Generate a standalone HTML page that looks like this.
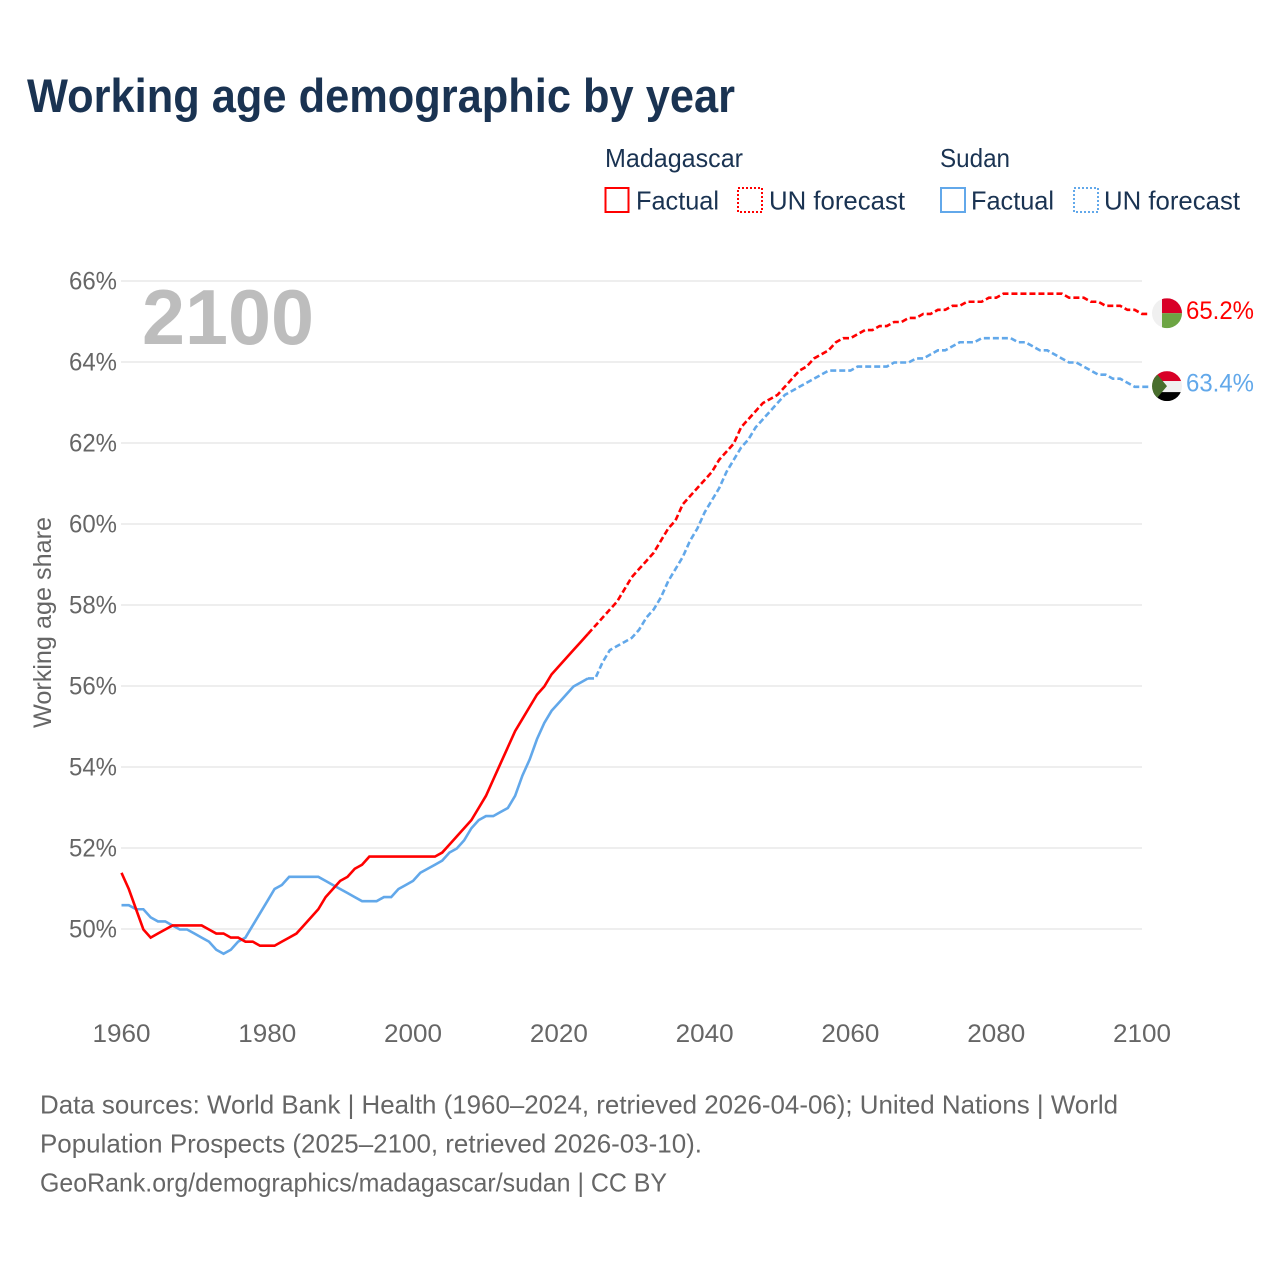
<!DOCTYPE html>
<html lang="en">
<head>
<meta charset="utf-8">
<title>Working age demographic by year</title>
<style>
html,body{margin:0;padding:0;background:#fff;}
svg{display:block;font-family:"Liberation Sans",sans-serif;}
</style>
</head>
<body>
<svg id="chart" xmlns="http://www.w3.org/2000/svg" width="1280" height="1280" viewBox="0 0 1280 1280">
  <rect x="0" y="0" width="1280" height="1280" fill="#ffffff"/>
  <text x="27" y="112" font-size="47" font-weight="700" fill="#1a3352" textLength="708" lengthAdjust="spacingAndGlyphs">Working age demographic by year</text>

  <g font-size="26" fill="#1a3352">
    <text x="605" y="167" textLength="138" lengthAdjust="spacingAndGlyphs">Madagascar</text>
    <text x="940" y="167" textLength="70" lengthAdjust="spacingAndGlyphs">Sudan</text>
    <rect x="605.5" y="188" width="23" height="24" fill="none" stroke="#ff0000" stroke-width="2"/>
    <text x="636" y="209.5" textLength="83" lengthAdjust="spacingAndGlyphs">Factual</text>
    <rect x="738" y="188" width="24" height="24" fill="none" stroke="#ff0000" stroke-width="2" stroke-dasharray="2 2"/>
    <text x="769" y="209.5" textLength="136" lengthAdjust="spacingAndGlyphs">UN forecast</text>
    <rect x="941" y="188" width="24" height="24" fill="none" stroke="#62a8ea" stroke-width="2"/>
    <text x="971" y="209.5" textLength="83" lengthAdjust="spacingAndGlyphs">Factual</text>
    <rect x="1074" y="188" width="24" height="24" fill="none" stroke="#62a8ea" stroke-width="2" stroke-dasharray="2 2"/>
    <text x="1104" y="209.5" textLength="136" lengthAdjust="spacingAndGlyphs">UN forecast</text>
  </g>

  <g id="grid"></g>
  <g id="yticks"></g>
  <g id="xticks"></g>

  <text x="142" y="344" font-size="78" font-weight="700" fill="#bdbdbd" textLength="172" lengthAdjust="spacingAndGlyphs">2100</text>
  <text transform="translate(51 728) rotate(-90)" font-size="25" fill="#666666" textLength="211" lengthAdjust="spacingAndGlyphs">Working age share</text>

  <g id="series"></g>

  <defs>
    <clipPath id="flag-clip"><circle cx="0" cy="0" r="15"/></clipPath>
  </defs>
  <g id="flag-madagascar">
    <g clip-path="url(#flag-clip)">
      <rect x="-15" y="-15" width="30" height="30" fill="#f0f0f0"/>
      <rect x="-5" y="-15" width="20" height="15" fill="#d80027"/>
      <rect x="-5" y="0" width="20" height="15" fill="#6da544"/>
    </g>
  </g>
  <g id="flag-sudan">
    <g clip-path="url(#flag-clip)">
      <rect x="-15" y="-15" width="30" height="10" fill="#d80027"/>
      <rect x="-15" y="-5" width="30" height="11" fill="#f0f0f0"/>
      <rect x="-15" y="6" width="30" height="9" fill="#000000"/>
      <polygon points="-15,-18 0,0 -15,18" fill="#496e2d"/>
    </g>
  </g>
  <text id="label-madagascar" x="1186" y="320" font-size="25" fill="#ff0000" textLength="68" lengthAdjust="spacingAndGlyphs"></text>
  <text id="label-sudan" x="1186" y="392" font-size="25" fill="#62a8ea" textLength="68" lengthAdjust="spacingAndGlyphs"></text>

  <g font-size="26" fill="#666666">
    <text x="40" y="1113.5" textLength="1078" lengthAdjust="spacingAndGlyphs">Data sources: World Bank | Health (1960–2024, retrieved 2026-04-06); United Nations | World</text>
    <text x="40" y="1152.5" textLength="662" lengthAdjust="spacingAndGlyphs">Population Prospects (2025–2100, retrieved 2026-03-10).</text>
    <text x="40" y="1191.5" textLength="627" lengthAdjust="spacingAndGlyphs">GeoRank.org/demographics/madagascar/sudan | CC BY</text>
  </g>
</svg>

<script>
const firstYear = 1960;
const lastFactualYear = 2024;
const yTickValues = [50, 52, 54, 56, 58, 60, 62, 64, 66];
const xTickValues = [1960, 1980, 2000, 2020, 2040, 2060, 2080, 2100];
const madagascarValues = [
  51.4,51.0,50.5,50.0,49.8,49.9,50.0,50.1,50.1,50.1,
  50.1,50.1,50.0,49.9,49.9,49.8,49.8,49.7,49.7,49.6,
  49.6,49.6,49.7,49.8,49.9,50.1,50.3,50.5,50.8,51.0,
  51.2,51.3,51.5,51.6,51.8,51.8,51.8,51.8,51.8,51.8,
  51.8,51.8,51.8,51.8,51.9,52.1,52.3,52.5,52.7,53.0,
  53.3,53.7,54.1,54.5,54.9,55.2,55.5,55.8,56.0,56.3,
  56.5,56.7,56.9,57.1,57.3,57.5,57.7,57.9,58.1,58.4,
  58.7,58.9,59.1,59.3,59.6,59.9,60.1,60.5,60.7,60.9,
  61.1,61.3,61.6,61.8,62.0,62.4,62.6,62.8,63.0,63.1,
  63.2,63.4,63.6,63.8,63.9,64.1,64.2,64.3,64.5,64.6,
  64.6,64.7,64.8,64.8,64.9,64.9,65.0,65.0,65.1,65.1,
  65.2,65.2,65.3,65.3,65.4,65.4,65.5,65.5,65.5,65.6,
  65.6,65.7,65.7,65.7,65.7,65.7,65.7,65.7,65.7,65.7,
  65.6,65.6,65.6,65.5,65.5,65.4,65.4,65.4,65.3,65.3,
  65.2
];
const sudanValues = [
  50.6,50.6,50.5,50.5,50.3,50.2,50.2,50.1,50.0,50.0,
  49.9,49.8,49.7,49.5,49.4,49.5,49.7,49.8,50.1,50.4,
  50.7,51.0,51.1,51.3,51.3,51.3,51.3,51.3,51.2,51.1,
  51.0,50.9,50.8,50.7,50.7,50.7,50.8,50.8,51.0,51.1,
  51.2,51.4,51.5,51.6,51.7,51.9,52.0,52.2,52.5,52.7,
  52.8,52.8,52.9,53.0,53.3,53.8,54.2,54.7,55.1,55.4,
  55.6,55.8,56.0,56.1,56.2,56.2,56.6,56.9,57.0,57.1,
  57.2,57.4,57.7,57.9,58.2,58.6,58.9,59.2,59.6,59.9,
  60.3,60.6,60.9,61.3,61.6,61.9,62.1,62.4,62.6,62.8,
  63.0,63.2,63.3,63.4,63.5,63.6,63.7,63.8,63.8,63.8,
  63.8,63.9,63.9,63.9,63.9,63.9,64.0,64.0,64.0,64.1,
  64.1,64.2,64.3,64.3,64.4,64.5,64.5,64.5,64.6,64.6,
  64.6,64.6,64.6,64.5,64.5,64.4,64.3,64.3,64.2,64.1,
  64.0,64.0,63.9,63.8,63.7,63.7,63.6,63.6,63.5,63.4,
  63.4
];

const SVGNS = 'http://www.w3.org/2000/svg';
const xScale = function (year) { return 121.5 + (year - 1960) * (1020.5 / 140); };
const yScale = function (value) { return 929.5 - (value - 50) * 40.5; };
const pathFor = function (values, fromYear, toYear, tail) {
  const parts = [];
  for (let yr = fromYear; yr <= toYear; yr++) {
    const v = values[yr - firstYear];
    parts.push((parts.length ? 'L' : 'M') + xScale(yr).toFixed(2) + ' ' + yScale(v).toFixed(2));
  }
  if (tail) {
    parts.push('L' + (xScale(toYear) + tail).toFixed(2) + ' ' + yScale(values[toYear - firstYear]).toFixed(2));
  }
  return parts.join(' ');
};

const gridG = document.getElementById('grid');
const yG = document.getElementById('yticks');
yTickValues.forEach(function (v) {
  const ln = document.createElementNS(SVGNS, 'line');
  
  
  ln.setAttribute('x1', 121);
  ln.setAttribute('x2', 1142);
  ln.setAttribute('y1', yScale(v) - 0.5);
  ln.setAttribute('y2', yScale(v) - 0.5);
  ln.setAttribute('stroke', '#e9e9e9');
  ln.setAttribute('stroke-width', '1.5');
  gridG.appendChild(ln);
  const t = document.createElementNS(SVGNS, 'text');
  
  
  t.setAttribute('x', 69);
  t.setAttribute('y', yScale(v) + 8);
  t.setAttribute('font-size', '25');
  t.setAttribute('fill', '#666666');
  t.setAttribute('textLength', '48');
  t.setAttribute('lengthAdjust', 'spacingAndGlyphs');
  t.textContent = v + '%';
  yG.appendChild(t);
});

const xG = document.getElementById('xticks');
xTickValues.forEach(function (yr) {
  const t = document.createElementNS(SVGNS, 'text');
  
  
  t.setAttribute('x', xScale(yr) - 29);
  t.setAttribute('y', 1042);
  t.setAttribute('font-size', '25');
  t.setAttribute('fill', '#666666');
  t.setAttribute('textLength', '58');
  t.setAttribute('lengthAdjust', 'spacingAndGlyphs');
  t.textContent = yr;
  xG.appendChild(t);
});

const seriesG = document.getElementById('series');

const sudanForecast = document.createElementNS(SVGNS, 'path');


sudanForecast.setAttribute('d', pathFor(sudanValues, lastFactualYear, 2100, 8));
sudanForecast.setAttribute('fill', 'none');
sudanForecast.setAttribute('stroke', '#62a8ea');
sudanForecast.setAttribute('stroke-width', '2.6');
sudanForecast.setAttribute('stroke-dasharray', '6 3');
seriesG.appendChild(sudanForecast);

const sudanFactual = document.createElementNS(SVGNS, 'path');


sudanFactual.setAttribute('d', pathFor(sudanValues, firstYear, lastFactualYear));
sudanFactual.setAttribute('fill', 'none');
sudanFactual.setAttribute('stroke', '#62a8ea');
sudanFactual.setAttribute('stroke-width', '2.6');
seriesG.appendChild(sudanFactual);

const madForecast = document.createElementNS(SVGNS, 'path');


madForecast.setAttribute('d', pathFor(madagascarValues, lastFactualYear, 2100, 8));
madForecast.setAttribute('fill', 'none');
madForecast.setAttribute('stroke', '#ff0000');
madForecast.setAttribute('stroke-width', '2.6');
madForecast.setAttribute('stroke-dasharray', '6 3');
seriesG.appendChild(madForecast);

const madFactual = document.createElementNS(SVGNS, 'path');


madFactual.setAttribute('d', pathFor(madagascarValues, firstYear, lastFactualYear));
madFactual.setAttribute('fill', 'none');
madFactual.setAttribute('stroke', '#ff0000');
madFactual.setAttribute('stroke-width', '2.6');
seriesG.appendChild(madFactual);

const madLast = madagascarValues[madagascarValues.length - 1];
const sudLast = sudanValues[sudanValues.length - 1];
document.getElementById('flag-madagascar').setAttribute('transform', 'translate(1167 ' + (yScale(madLast) - 0.7) + ')');
document.getElementById('flag-sudan').setAttribute('transform', 'translate(1167 ' + (yScale(sudLast) - 0.7) + ')');
const labM = document.getElementById('label-madagascar');
labM.setAttribute('y', yScale(madLast) + 5);
labM.textContent = madLast.toFixed(1) + '%';
const labS = document.getElementById('label-sudan');
labS.setAttribute('y', yScale(sudLast) + 4.5);
labS.textContent = sudLast.toFixed(1) + '%';
</script>
</body>
</html>
